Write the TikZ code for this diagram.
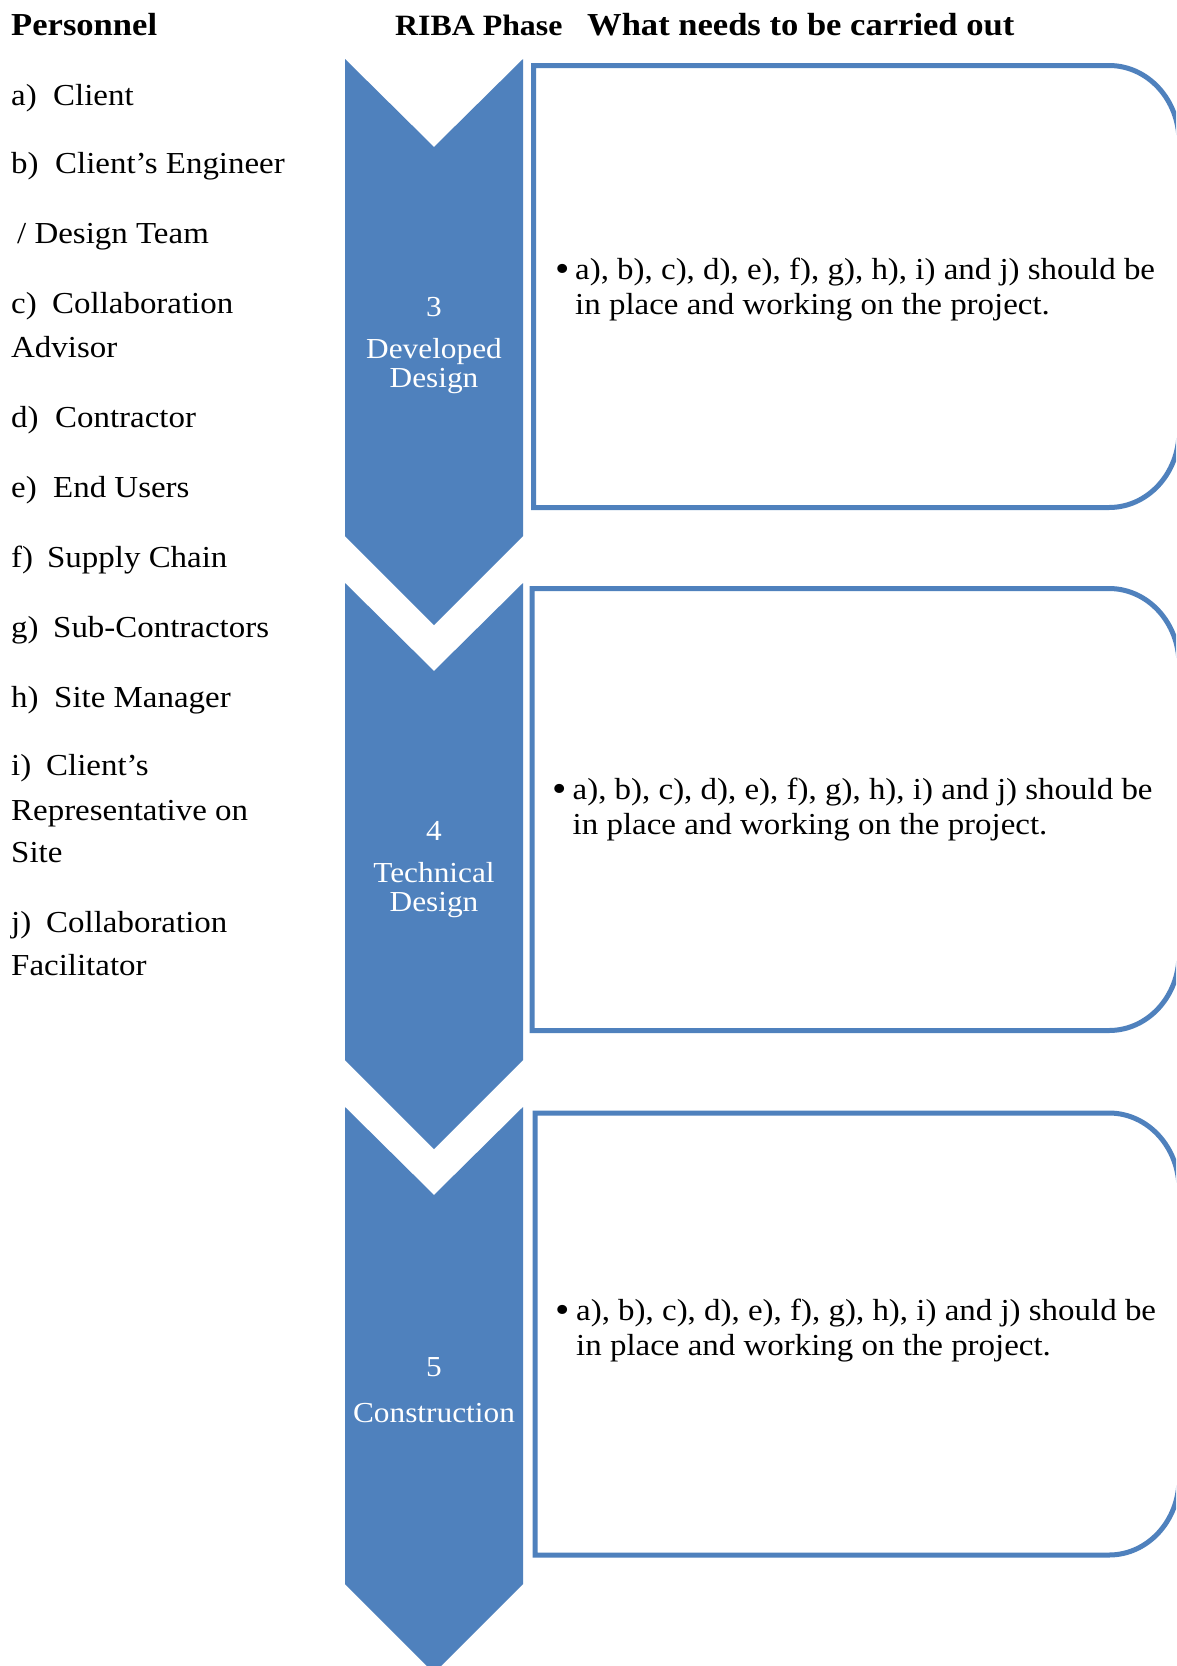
\documentclass[tikz,border=0pt]{standalone}
\usepackage{fontspec}
\setmainfont{Liberation Serif}[FakeStretch=1.08]
\definecolor{accent}{HTML}{4F81BD}
\begin{document}
\begin{tikzpicture}[x=1pt,y=-1pt,
  lst/.style={anchor=base west,inner sep=0pt,font=\fontsize{30.5}{36}\selectfont},
  hdr/.style={anchor=base west,inner sep=0pt,font=\fontsize{32}{38}\selectfont\bfseries},
  ctext/.style={anchor=base,inner sep=0pt,text=white,font=\fontsize{29}{34}\selectfont},
  btext/.style={anchor=base west,inner sep=0pt,font=\fontsize{30.5}{36}\selectfont},
  bdot/.style={anchor=base west,inner sep=0pt,font=\fontsize{38}{40}\selectfont},
  chev/.style={fill=accent,draw=none},
  phasebox/.style={draw=accent,line width=5pt}]
\useasboundingbox (0,0) rectangle (1176,1666);
\clip (0,0) rectangle (1176,1666);
\fill[white] (0,0) rectangle (1176,1666);

% headers
\node[hdr] (hpers) at (11,35) {Personnel};
\node[hdr,font=\fontsize{29.5}{36}\selectfont\bfseries] (hriba) at (395,35) {RIBA Phase};
\node[hdr] (hwhat) at (587,35) {What needs to be carried out};

% personnel list
\node[lst] (pa) at (11,105) {\makebox[42pt][l]{a)}Client};
\node[lst] (pb) at (11,173) {\makebox[44pt][l]{b)}Client’s Engineer};
\node[lst] (pb2) at (17,243) {/ Design Team};
\node[lst] (pc) at (11,313) {\makebox[41pt][l]{c)}Collaboration};
\node[lst] (pc2) at (11,357) {Advisor};
\node[lst] (pd) at (11,427) {\makebox[44pt][l]{d)}Contractor};
\node[lst] (pe) at (11,497) {\makebox[42pt][l]{e)}End Users};
\node[lst] (pf) at (11,567) {\makebox[36pt][l]{f)}Supply Chain};
\node[lst] (pg) at (11,637) {\makebox[42pt][l]{g)}Sub-Contractors};
\node[lst] (ph) at (11,707) {\makebox[43pt][l]{h)}Site Manager};
\node[lst] (pi) at (11,775) {\makebox[35pt][l]{i)}Client’s};
\node[lst] (pi2) at (11,820) {Representative on};
\node[lst] (pi3) at (11,862) {Site};
\node[lst] (pj) at (11,932) {\makebox[35pt][l]{j)}Collaboration};
\node[lst] (pj2) at (11,975) {Facilitator};

% chevrons
\path[chev] (345,59) -- (434,147) -- (523,59) -- (523,536) -- (434,625) -- (345,536) -- cycle;
\path[chev] (345,583) -- (434,671) -- (523,583) -- (523,1060) -- (434,1149) -- (345,1060) -- cycle;
\path[chev] (345,1107) -- (434,1195) -- (523,1107) -- (523,1584) -- (434,1673) -- (345,1584) -- cycle;

\node[ctext] (c1n) at (434,316) {3};
\node[ctext] (c1a) at (434,358) {Developed};
\node[ctext] (c1b) at (434,387) {Design};
\node[ctext] (c2n) at (434,840) {4};
\node[ctext] (c2a) at (434,882) {Technical};
\node[ctext] (c2b) at (434,911) {Design};
\node[ctext] (c3n) at (434,1376) {5};
\node[ctext] (c3a) at (434,1422) {Construction};

% boxes
\draw[phasebox] (533.5,65.5) -- (1109,65.5) .. controls (1147.7,65.5) and (1179,99.5) .. (1179,141.5)
  -- (1179,431.5) .. controls (1179,473.5) and (1147.7,507.5) .. (1109,507.5) -- (533.5,507.5) -- cycle;
\draw[phasebox] (532,588.5) -- (1109,588.5) .. controls (1147.7,588.5) and (1179,622.5) .. (1179,664.5)
  -- (1179,954.5) .. controls (1179,996.5) and (1147.7,1030.5) .. (1109,1030.5) -- (532,1030.5) -- cycle;
\draw[phasebox] (535,1113) -- (1109,1113) .. controls (1147.7,1113) and (1179,1147) .. (1179,1189)
  -- (1179,1479) .. controls (1179,1521) and (1147.7,1555) .. (1109,1555) -- (535,1555) -- cycle;

% box texts
\node[bdot] (b1d) at (555,281) {\textbullet};
\node[btext] (b1a) at (575,279) {a), b), c), d), e), f), g), h), i) and j) should be};
\node[btext] (b1b) at (575,314) {in place and working on the project.};
\node[bdot] (b2d) at (552,801) {\textbullet};
\node[btext] (b2a) at (572.5,799) {a), b), c), d), e), f), g), h), i) and j) should be};
\node[btext] (b2b) at (572.5,834) {in place and working on the project.};
\node[bdot] (b3d) at (555.5,1322) {\textbullet};
\node[btext] (b3a) at (576,1320) {a), b), c), d), e), f), g), h), i) and j) should be};
\node[btext] (b3b) at (576,1355) {in place and working on the project.};
\end{tikzpicture}
\end{document}
